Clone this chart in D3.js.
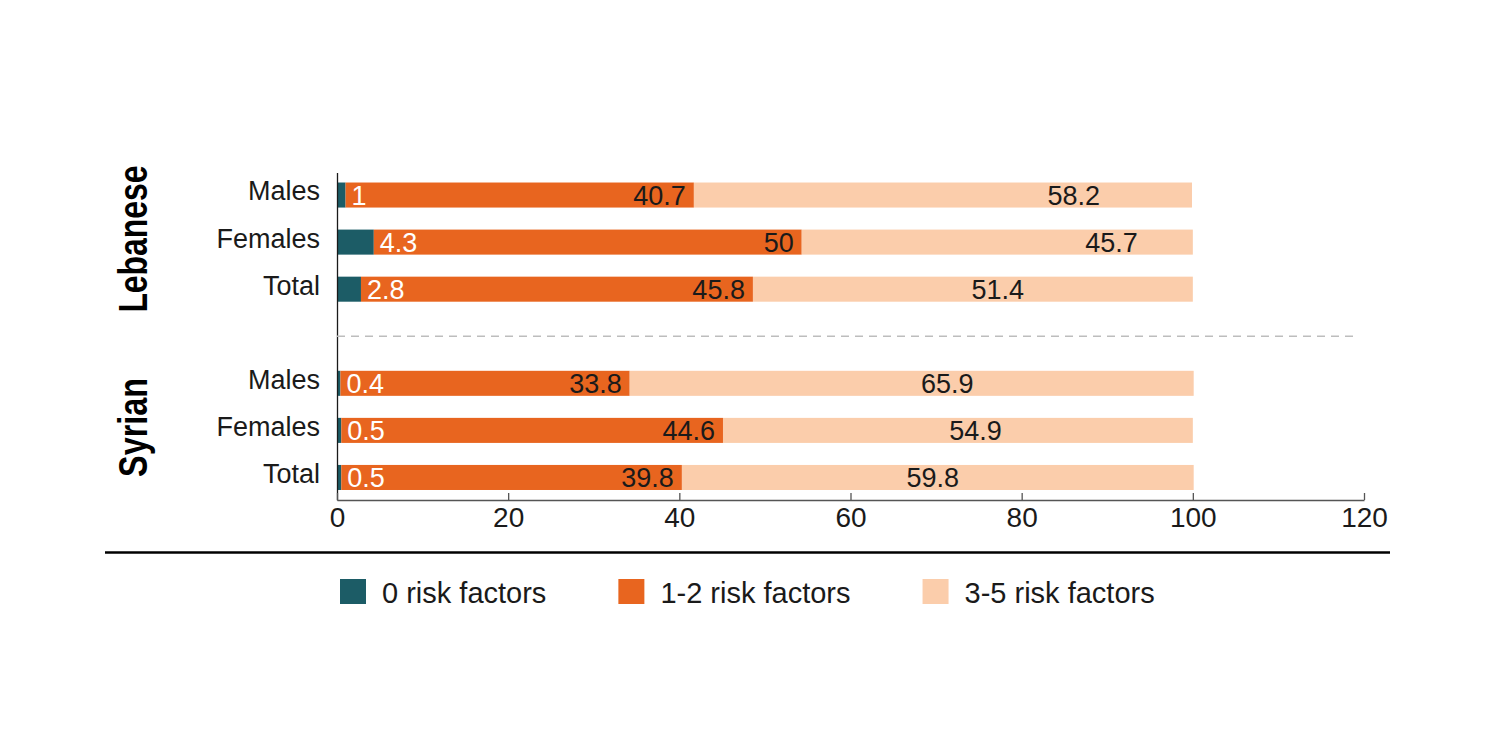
<!DOCTYPE html>
<html>
<head>
<meta charset="utf-8">
<script src="https://cdn.jsdelivr.net/npm/d3@7/dist/d3.min.js"></script>
<style>
  body { margin: 0; background: #fff; }
  svg { display: block; font-family: "Liberation Sans", Arial, Helvetica, sans-serif; }
</style>
</head>
<body>
<script>
// data
var groups = ["Lebanese", "Syrian"];
var categories = ["Males", "Females", "Total"];
var seriesNames = ["0 risk factors", "1-2 risk factors", "3-5 risk factors"];
var zeroRisk = [1, 4.3, 2.8, 0.4, 0.5, 0.5];
var lowRisk = [40.7, 50, 45.8, 33.8, 44.6, 39.8];
var highRisk = [58.2, 45.7, 51.4, 65.9, 54.9, 59.8];
var highLabelAt = [86.1, 90.5, 77.2, 71.3, 74.6, 69.6];   // where the 3-5 labels sit (in % units)
var xTicks = [0, 20, 40, 60, 80, 100, 120];

var colors = ["#1c5c66", "#e8651f", "#fbcdab"];
var ink = "#1a1a1a";

var W = 1501, H = 751;
var svg = d3.select("body").append("svg")
  .attr("width", W)
  .attr("height", H);

// rows: 3 per group with an empty slot between the groups
var rows = [];
groups.forEach(function(g, gi) {
  categories.forEach(function(c, ci) {
    var i = gi * categories.length + ci;
    rows.push({ key: g + "|" + c, group: g, cat: c, zero: zeroRisk[i], low: lowRisk[i], high: highRisk[i], labelAt: highLabelAt[i] });
  });
});
var keys = rows.slice(0, 3).map(function(d) { return d.key; })
  .concat(["gap"])
  .concat(rows.slice(3).map(function(d) { return d.key; }));

var x = d3.scaleLinear().domain([0, 120]).range([337, 1364]);
var y = d3.scaleBand().domain(keys).range([172.5, 500]).paddingInner(22 / 47).paddingOuter(10 / 47);

var stack = d3.stack().keys(["zero", "low", "high"]);
var layers = stack(rows);

// bars
svg.append("g").selectAll("g")
  .data(layers)
  .enter().append("g")
    .attr("fill", function(d, i) { return colors[i]; })
  .selectAll("rect")
  .data(function(d) { return d; })
  .enter().append("rect")
    .attr("x", function(d) { return x(d[0]); })
    .attr("y", function(d) { return y(d.data.key); })
    .attr("width", function(d) { return x(d[1]) - x(d[0]); })
    .attr("height", y.bandwidth());

// value labels
var labels = svg.append("g").attr("font-size", 27);
var mid = function(d) { return y(d.data.key) + y.bandwidth() / 2; };

labels.selectAll(".l0").data(layers[0]).enter().append("text")
  .attr("x", function(d) { return x(d[1]) + 6; })
  .attr("y", mid).attr("dy", "0.37em")
  .attr("fill", "#fff")
  .text(function(d) { return d.data.zero; });

labels.selectAll(".l1").data(layers[1]).enter().append("text")
  .attr("x", function(d) { return x(d[1]) - 8; })
  .attr("y", mid).attr("dy", "0.37em")
  .attr("text-anchor", "end")
  .attr("fill", ink)
  .text(function(d) { return d.data.low; });

labels.selectAll(".l2").data(layers[2]).enter().append("text")
  .attr("x", function(d) { return x(d.data.labelAt); })
  .attr("y", mid).attr("dy", "0.37em")
  .attr("text-anchor", "middle")
  .attr("fill", ink)
  .text(function(d) { return d.data.high; });

// y axis with category names
var yAxis = d3.axisLeft(y)
  .tickValues(rows.map(function(d) { return d.key; }))
  .tickFormat(function(k) { return k.split("|")[1]; })
  .tickSize(0).tickSizeOuter(0).tickPadding(17);
var yg = svg.append("g").attr("transform", "translate(" + x(0) + ",0)").call(yAxis);
yg.select(".domain").attr("stroke", ink).attr("stroke-width", 1.3);
yg.selectAll("text").attr("font-size", 27).attr("fill", ink).attr("dy", "0.2em")
  .attr("font-family", "Liberation Sans, Arial, sans-serif");

// x axis
var xAxis = d3.axisBottom(x).tickValues(xTicks).tickSize(-7).tickSizeOuter(0).tickPadding(7);
var xg = svg.append("g").attr("transform", "translate(0,500)").call(xAxis);
xg.select(".domain").attr("stroke", "#555").attr("stroke-width", 1.3);
xg.selectAll(".tick line").attr("stroke", "#555").attr("stroke-width", 1.3);
xg.selectAll("text").attr("font-size", 28).attr("fill", ink)
  .attr("font-family", "Liberation Sans, Arial, sans-serif");

// dashed separator between groups
svg.append("line")
  .attr("x1", x(0)).attr("x2", 1357)
  .attr("y1", y("gap") + y.bandwidth() / 2).attr("y2", y("gap") + y.bandwidth() / 2)
  .attr("stroke", "#bdbdbd").attr("stroke-width", 1.5).attr("stroke-dasharray", "8,6");

// group titles
groups.forEach(function(g, gi) {
  var first = y(rows[gi * 3].key), last = y(rows[gi * 3 + 2].key) + y.bandwidth();
  var cy = (first + last) / 2 - 3;
  svg.append("text")
    .attr("transform", "translate(147," + cy + ") rotate(-90)")
    .attr("text-anchor", "middle")
    .attr("font-family", "'Liberation Sans', Arial, sans-serif")
    .attr("font-weight", "bold")
    .attr("font-size", 40)
    .attr("textLength", gi === 0 ? 147 : 99)
    .attr("lengthAdjust", "spacingAndGlyphs")
    .attr("fill", "#000")
    .text(g);
});

// rule above legend
svg.append("line")
  .attr("x1", 105).attr("x2", 1390)
  .attr("y1", 552.5).attr("y2", 552.5)
  .attr("stroke", "#000").attr("stroke-width", 2.5);

// legend
var legend = svg.append("g");
var lx = 340;
seriesNames.forEach(function(name, i) {
  var item = legend.append("g").attr("transform", "translate(" + lx + ",579)");
  item.append("rect").attr("width", 26).attr("height", 25).attr("fill", colors[i]);
  var t = item.append("text").attr("x", 42).attr("y", 24)
    .attr("font-size", 29).attr("fill", ink).text(name);
  lx += 42 + t.node().getComputedTextLength() + 72;
});
</script>
</body>
</html>
